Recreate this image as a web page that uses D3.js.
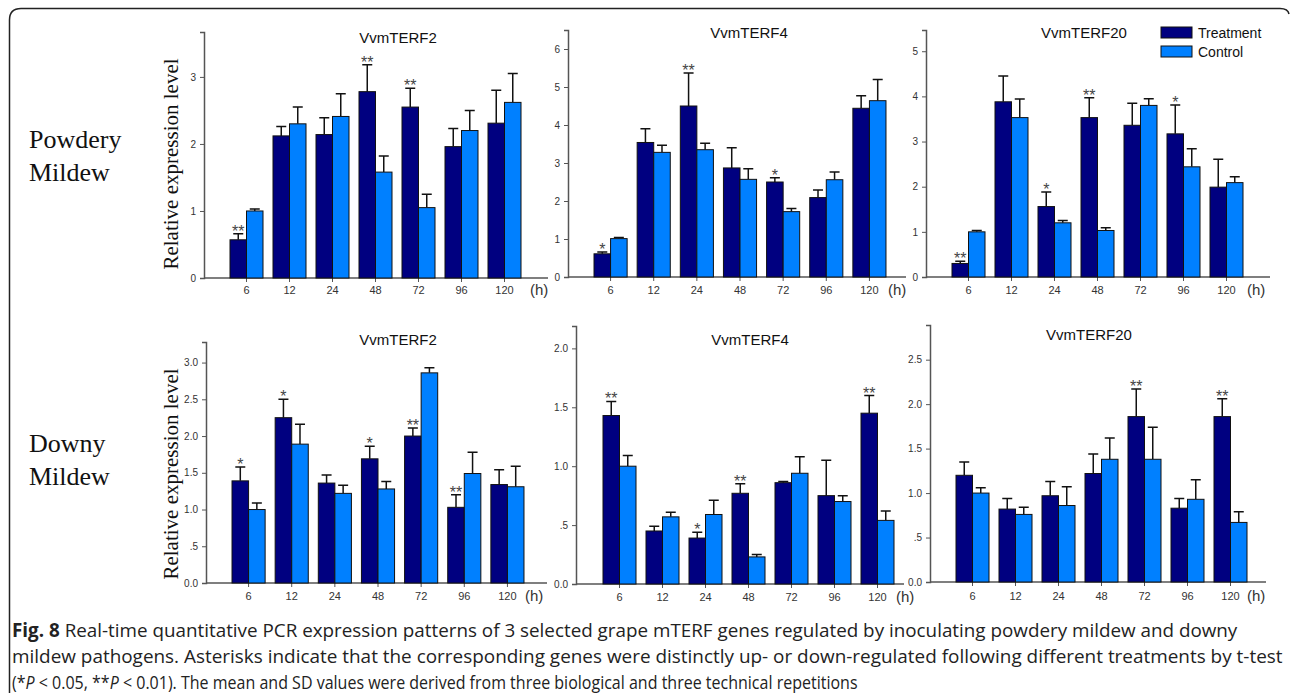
<!DOCTYPE html>
<html><head><meta charset="utf-8">
<script src="https://cdn.jsdelivr.net/npm/d3@7"></script>
<style>body{margin:0;background:#fff}svg{display:block}</style>
</head><body>
<svg id="chart" width="1292" height="700"></svg>
<script>
// ---------- DATA ----------
const categories = ["6","12","24","48","72","96","120"];
const seriesNames = ["Treatment","Control"];
const geneTitles = ["VvmTERF2","VvmTERF4","VvmTERF20"];
const rowLabels = [["Powdery","Mildew"],["Downy","Mildew"]];

// Powdery mildew
const pmTerf2Treat = [0.57,2.12,2.14,2.78,2.55,1.96,2.31];
const pmTerf2TreatSD = [0.09,0.14,0.25,0.40,0.28,0.27,0.49];
const pmTerf2Ctrl = [1.00,2.30,2.41,1.58,1.05,2.20,2.62];
const pmTerf2CtrlSD = [0.03,0.25,0.34,0.24,0.20,0.30,0.43];
const pmTerf2Sig = ["**","","","**","**","",""];

const pmTerf4Treat = [0.61,3.54,4.50,2.87,2.50,2.09,4.44];
const pmTerf4TreatSD = [0.05,0.36,0.87,0.53,0.11,0.20,0.33];
const pmTerf4Ctrl = [1.01,3.28,3.35,2.57,1.72,2.56,4.64];
const pmTerf4CtrlSD = [0.03,0.19,0.17,0.28,0.08,0.20,0.56];
const pmTerf4Sig = ["*","","**","","*","",""];

const pmTerf20Treat = [0.30,3.88,1.56,3.53,3.36,3.17,1.99];
const pmTerf20TreatSD = [0.05,0.57,0.32,0.44,0.49,0.64,0.62];
const pmTerf20Ctrl = [1.00,3.53,1.20,1.03,3.80,2.44,2.09];
const pmTerf20CtrlSD = [0.03,0.41,0.05,0.06,0.15,0.40,0.13];
const pmTerf20Sig = ["**","","*","**","","*",""];

// Downy mildew
const dmTerf2Treat = [1.39,2.25,1.36,1.69,2.00,1.03,1.34];
const dmTerf2TreatSD = [0.19,0.25,0.11,0.17,0.11,0.17,0.20];
const dmTerf2Ctrl = [1.00,1.89,1.22,1.28,2.86,1.49,1.31];
const dmTerf2CtrlSD = [0.09,0.27,0.11,0.10,0.07,0.29,0.28];
const dmTerf2Sig = ["*","*","","*","**","**",""];

const dmTerf4Treat = [1.43,0.45,0.39,0.77,0.86,0.75,1.45];
const dmTerf4TreatSD = [0.12,0.04,0.05,0.08,0.01,0.30,0.15];
const dmTerf4Ctrl = [1.00,0.57,0.59,0.23,0.94,0.70,0.54];
const dmTerf4CtrlSD = [0.09,0.04,0.12,0.02,0.14,0.05,0.08];
const dmTerf4Sig = ["**","","*","**","","","**"];

const dmTerf20Treat = [1.20,0.82,0.97,1.22,1.86,0.83,1.86];
const dmTerf20TreatSD = [0.15,0.12,0.16,0.22,0.31,0.11,0.20];
const dmTerf20Ctrl = [1.00,0.76,0.86,1.38,1.38,0.93,0.67];
const dmTerf20CtrlSD = [0.06,0.08,0.21,0.24,0.36,0.22,0.12];
const dmTerf20Sig = ["","","","","**","","**"];

// Tick values / labels
const pmTerf2Ticks = [0,1,2,3];
const pmTerf2TickLabels = ["0","1","2","3"];
const pmTerf4Ticks = [0,1,2,3,4,5,6];
const pmTerf4TickLabels = ["0","1","2","3","4","5","6"];
const pmTerf20Ticks = [0,1,2,3,4,5];
const pmTerf20TickLabels = ["0","1","2","3","4","5"];
const dmTerf2Ticks = [0,0.5,1,1.5,2,2.5,3];
const dmTerf2TickLabels = ["0.0",".5","1.0","1.5","2.0","2.5","3.0"];
const dmTerf4Ticks = [0,0.5,1,1.5,2];
const dmTerf4TickLabels = ["0.0",".5","1.0","1.5","2.0"];
const dmTerf20Ticks = [0,0.5,1,1.5,2,2.5];
const dmTerf20TickLabels = ["0.0",".5","1.0","1.5","2.0","2.5"];

const yAxisLabel = "Relative expression level";
const hourUnit = "(h)";

// ---------- LAYOUT ----------
const colors = {Treatment:"#000080", Control:"#0080ff"};
const panels = [
  {t:pmTerf2Treat,ts:pmTerf2TreatSD,c:pmTerf2Ctrl,cs:pmTerf2CtrlSD,sig:pmTerf2Sig,ticks:pmTerf2Ticks,tl:pmTerf2TickLabels,title:geneTitles[0],
   ax:204,base:278,top:32,yMax:3.67,band:[225,526],xEnd:548,tx:398,ty:43,hx:530,lab:294},
  {t:pmTerf4Treat,ts:pmTerf4TreatSD,c:pmTerf4Ctrl,cs:pmTerf4CtrlSD,sig:pmTerf4Sig,ticks:pmTerf4Ticks,tl:pmTerf4TickLabels,title:geneTitles[1],
   ax:568,base:277,top:30,yMax:6.5,band:[589,891],xEnd:906,tx:749,ty:38,hx:888,lab:294},
  {t:pmTerf20Treat,ts:pmTerf20TreatSD,c:pmTerf20Ctrl,cs:pmTerf20CtrlSD,sig:pmTerf20Sig,ticks:pmTerf20Ticks,tl:pmTerf20TickLabels,title:geneTitles[2],
   ax:926,base:277,top:30,yMax:5.47,band:[947,1248],xEnd:1270,tx:1084,ty:38,hx:1247,lab:294},
  {t:dmTerf2Treat,ts:dmTerf2TreatSD,c:dmTerf2Ctrl,cs:dmTerf2CtrlSD,sig:dmTerf2Sig,ticks:dmTerf2Ticks,tl:dmTerf2TickLabels,title:geneTitles[0],
   ax:206,base:583,top:342,yMax:3.28,band:[227,529],xEnd:547,tx:398,ty:345,hx:525,lab:600},
  {t:dmTerf4Treat,ts:dmTerf4TreatSD,c:dmTerf4Ctrl,cs:dmTerf4CtrlSD,sig:dmTerf4Sig,ticks:dmTerf4Ticks,tl:dmTerf4TickLabels,title:geneTitles[1],
   ax:576,base:584,top:326,yMax:2.19,band:[598,899],xEnd:904,tx:750,ty:345,hx:896,lab:601},
  {t:dmTerf20Treat,ts:dmTerf20TreatSD,c:dmTerf20Ctrl,cs:dmTerf20CtrlSD,sig:dmTerf20Sig,ticks:dmTerf20Ticks,tl:dmTerf20TickLabels,title:geneTitles[2],
   ax:930,base:582,top:325,yMax:2.89,band:[951,1252],xEnd:1266,tx:1089,ty:340,hx:1247,lab:600}
];

const svg = d3.select("#chart");
const SANS = "'Liberation Sans', Arial, sans-serif";
const SERIF = "'Liberation Serif', 'Times New Roman', serif";

// border
svg.append("path")
  .attr("d","M9.5,693 L9.5,20 Q9.5,8.5 21,8.5 L1280,8.5 Q1288,8.5 1289,14")
  .attr("fill","none").attr("stroke","#222").attr("stroke-width",1.5);

panels.forEach(p => {
  const g = svg.append("g");
  const x = d3.scaleBand().domain(categories).range(p.band).paddingInner(10/43).paddingOuter(5/43);
  const x1 = d3.scaleBand().domain(seriesNames).range([0, x.bandwidth()]);
  const y = d3.scaleLinear().domain([0, p.yMax]).range([p.base, p.top]);

  const yAxis = d3.axisLeft(y).tickValues(p.ticks).tickFormat((d,i)=>p.tl[i]).tickSize(4).tickPadding(4);
  const ya = g.append("g").attr("transform",`translate(${p.ax},0)`).call(yAxis);
  ya.select(".domain").attr("stroke","#555").attr("stroke-width",1.5);
  ya.selectAll(".tick line").attr("stroke","#555");
  ya.selectAll(".tick text").attr("font-family",SANS).attr("font-size",10).attr("fill","#333");

  const xa = d3.axisBottom(x).tickSize(4).tickPadding(6).tickSizeOuter(0);
  const xg = g.append("g").attr("transform",`translate(0,${p.base})`).call(xa);
  xg.select(".domain").remove();
  g.append("line").attr("x1",p.ax).attr("x2",p.xEnd).attr("y1",p.base).attr("y2",p.base)
    .attr("stroke","#555").attr("stroke-width",1.5);
  xg.selectAll(".tick line").attr("stroke","#555");
  xg.selectAll(".tick text").attr("font-family",SANS).attr("font-size",11).attr("fill","#333")
    .attr("dy",null).attr("y",p.lab - p.base);

  g.append("text").attr("x",p.hx).attr("y",p.lab+1).text(hourUnit)
    .attr("font-family",SANS).attr("font-size",15).attr("fill","#333");

  const rows = categories.map((cat,i)=>({cat, vals:[
    {s:"Treatment", v:p.t[i], sd:p.ts[i]},
    {s:"Control", v:p.c[i], sd:p.cs[i]}], sig:p.sig[i]}));
  const grp = g.selectAll(".grp").data(rows).join("g").attr("transform",d=>`translate(${x(d.cat)},0)`);
  grp.selectAll(".err").data(d=>d.vals).join("path")
    .attr("d",d=>{const cx=x1(d.s)+x1.bandwidth()/2; const yt=y(d.v+d.sd); return `M${cx},${y(d.v)}V${yt}M${cx-5},${yt}H${cx+5}`;})
    .attr("stroke","#111").attr("stroke-width",1.5).attr("fill","none");
  grp.selectAll(".bar").data(d=>d.vals).join("rect")
    .attr("x",d=>x1(d.s)).attr("width",x1.bandwidth())
    .attr("y",d=>y(d.v)).attr("height",d=>y(0)-y(d.v))
    .attr("fill",d=>colors[d.s]).attr("stroke","#111").attr("stroke-width",1);
  grp.append("text").text(d=>d.sig)
    .attr("x",x1("Treatment")+x1.bandwidth()/2)
    .attr("y",d=>y(d.vals[0].v+d.vals[0].sd)+3)
    .attr("text-anchor","middle").attr("font-family",SANS).attr("font-size",16).attr("fill","#444");

  g.append("text").attr("x",p.tx).attr("y",p.ty).attr("text-anchor","middle").text(p.title)
    .attr("font-family",SANS).attr("font-size",15).attr("fill","#111");
});

[[178,164],[178,474]].forEach(([lx,ly])=>{
  svg.append("text").attr("transform",`translate(${lx},${ly}) rotate(-90)`)
    .attr("text-anchor","middle").text(yAxisLabel)
    .attr("font-family",SERIF).attr("font-size",21).attr("fill","#111");
});

[[148,181],[452,485]].forEach((ys,ri)=>{
  rowLabels[ri].forEach((t,k)=>{
    svg.append("text").attr("x",29).attr("y",ys[k]).text(t)
      .attr("font-family",SERIF).attr("font-size",26).attr("fill","#111");
  });
});

seriesNames.forEach((s,i)=>{
  const ly = 27 + i*19;
  svg.append("rect").attr("x",1161).attr("y",ly).attr("width",31).attr("height",11)
    .attr("fill",colors[s]).attr("stroke","#111").attr("stroke-width",1);
  svg.append("text").attr("x",1198).attr("y",ly+10.5).text(s)
    .attr("font-family",SANS).attr("font-size",14).attr("fill","#111");
});

// caption: condensed by horizontal scaling of each line group
const CAP = "'Open Sans', 'Noto Sans', sans-serif";
const captionLines = [
  {y:637, w:1226, parts:[["Fig. 8","bold",""],[" Real-time quantitative PCR expression patterns of 3 selected grape mTERF genes regulated by inoculating powdery mildew and downy","",""]]},
  {y:663, w:1271, parts:[["mildew pathogens. Asterisks indicate that the corresponding genes were distinctly up- or down-regulated following different treatments by t-test","",""]]},
  {y:689, w:846, parts:[["(*","",""],["P","","italic"],[" < 0.05, **","",""],["P","","italic"],[" < 0.01). The mean and SD values were derived from three biological and three technical repetitions","",""]]}
];
captionLines.forEach(L=>{
  const lg = svg.append("g");
  const t = lg.append("text").attr("x",0).attr("y",0).attr("font-family",CAP).attr("font-size",19).attr("fill","#222");
  L.parts.forEach(([txt,wt,st])=>{
    const ts = t.append("tspan").text(txt);
    if (wt) ts.attr("font-weight",wt);
    if (st) ts.attr("font-style",st);
  });
  const len = t.node().getComputedTextLength();
  lg.attr("transform",`translate(12,${L.y}) scale(${L.w/len},1)`);
});
</script>
</body></html>
